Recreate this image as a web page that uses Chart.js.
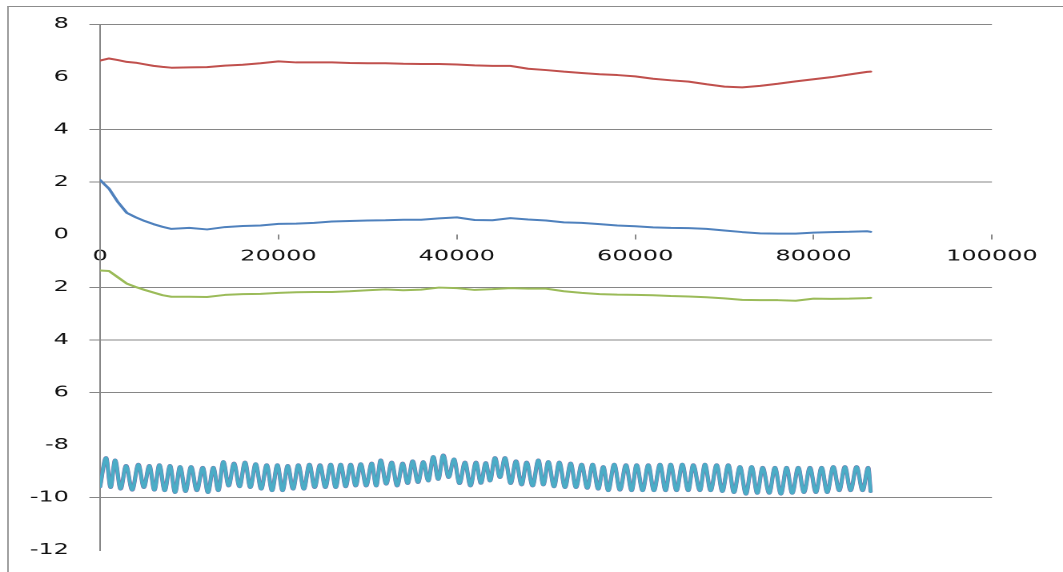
<!DOCTYPE html>
<html>
<head>
<meta charset="utf-8">
<script src="https://cdn.jsdelivr.net/npm/chart.js@4.4.1/dist/chart.umd.min.js"></script>
<style>
  html, body { margin: 0; padding: 0; background: #fff; overflow: hidden; }
  #frame { position: absolute; left: 7px; top: 6px; width: 1080px; height: 590px; border-left: 2px solid #a4a4a4; border-top: 1px solid #8c8c8c; }
  /* the reference is stretched sideways, so the canvas is drawn narrow and scaled up */
  #chart { position: absolute; left: 0; top: 0; transform-origin: 0 0; transform: scaleX(1.6009); }
</style>
</head>
<body>
<div id="frame"></div>
<canvas id="chart" width="664" height="572"></canvas>
<script>
// seconds over one day
const times = [0, 1000, 2000, 3000, 4000, 5000, 6000, 7000, 8000,
    10000, 12000, 14000, 16000, 18000, 20000, 22000, 24000, 26000, 28000,
    30000, 32000, 34000, 36000, 38000, 40000, 42000, 44000, 46000, 48000,
    50000, 52000, 54000, 56000, 58000, 60000, 62000, 64000, 66000, 68000,
    70000, 72000, 74000, 76000, 78000, 80000, 82000, 84000, 86000, 86400];

const redValues = [6.62, 6.70, 6.64, 6.57, 6.54, 6.48, 6.42, 6.38, 6.35,
    6.36, 6.37, 6.43, 6.46, 6.52, 6.59, 6.55, 6.55, 6.55, 6.53,
    6.52, 6.52, 6.50, 6.49, 6.49, 6.47, 6.44, 6.42, 6.42, 6.31,
    6.26, 6.20, 6.15, 6.10, 6.07, 6.02, 5.93, 5.87, 5.82, 5.72,
    5.63, 5.60, 5.66, 5.74, 5.83, 5.91, 5.99, 6.09, 6.19, 6.20];

const blueValues = [2.08, 1.75, 1.24, 0.83, 0.66, 0.52, 0.40, 0.30, 0.22,
    0.26, 0.20, 0.29, 0.33, 0.35, 0.41, 0.42, 0.45, 0.50, 0.52,
    0.54, 0.55, 0.57, 0.57, 0.62, 0.66, 0.56, 0.55, 0.63, 0.58,
    0.54, 0.47, 0.45, 0.40, 0.35, 0.32, 0.28, 0.26, 0.25, 0.22,
    0.16, 0.10, 0.05, 0.04, 0.04, 0.08, 0.10, 0.11, 0.13, 0.11];

const greenValues = [-1.36, -1.38, -1.62, -1.86, -1.99, -2.10, -2.20, -2.30, -2.36,
    -2.36, -2.37, -2.29, -2.26, -2.25, -2.21, -2.19, -2.18, -2.18, -2.15,
    -2.11, -2.08, -2.11, -2.09, -2.01, -2.03, -2.10, -2.07, -2.03, -2.05,
    -2.05, -2.15, -2.21, -2.26, -2.28, -2.29, -2.30, -2.33, -2.35, -2.38,
    -2.42, -2.48, -2.49, -2.49, -2.51, -2.43, -2.44, -2.43, -2.41, -2.40];

// aqua trace: start, then peak / trough pairs, then end
const aquaTimes = [0,
    673, 1180, 1682, 2300, 2915, 3600, 4295, 4910, 5530, 6090,
    6650, 7250, 7847, 8410, 8968, 9580, 10200, 10850, 11510, 12100,
    12700, 13260, 13820, 14420, 15020, 15640, 16255, 16850, 17450, 18070,
    18685, 19280, 19880, 20460, 21040, 21640, 22230, 22850, 23470, 24060,
    24660, 25260, 25860, 26420, 26980, 27540, 28100, 28660, 29225, 29840,
    30455, 30960, 31465, 32080, 32700, 33310, 33930, 34490, 35050, 35650,
    36245, 36800, 37365, 37920, 38485, 39080, 39680, 40300, 40915, 41530,
    42150, 42700, 43250, 43720, 44280, 44840, 45400, 46040, 46635, 47270,
    47830, 48500, 49140, 49700, 50260, 50900, 51490, 52130, 52765, 53360,
    53995, 54630, 55230, 55860, 56425, 56980, 57655, 58290, 58965, 59600,
    60160, 60830, 61470, 62100, 62780, 63410, 63975, 64640, 65280, 65950,
    66510, 67260, 67820, 68460, 69130, 69770, 70440, 71070, 71745, 72420,
    73055, 73690, 74290, 75030, 75670, 76340, 76980, 77610, 78285, 78920,
    79590, 80260, 80900, 81530, 82210, 82880, 83515, 84150, 84825, 85500,
    86130, 86400];

const aquaValues = [-9.59,
    -8.47, -9.62, -8.56, -9.68, -8.77, -9.72, -8.72, -9.62, -8.77, -9.72,
    -8.74, -9.74, -8.77, -9.81, -8.81, -9.77, -8.81, -9.74, -8.84, -9.81,
    -8.84, -9.74, -8.62, -9.56, -8.68, -9.59, -8.64, -9.62, -8.70, -9.68,
    -8.74, -9.74, -8.74, -9.74, -8.77, -9.68, -8.74, -9.68, -8.72, -9.62,
    -8.74, -9.62, -8.72, -9.62, -8.72, -9.59, -8.72, -9.56, -8.70, -9.56,
    -8.68, -9.56, -8.56, -9.49, -8.64, -9.56, -8.68, -9.47, -8.59, -9.43,
    -8.62, -9.37, -8.43, -9.31, -8.37, -9.24, -8.52, -9.47, -8.64, -9.56,
    -8.64, -9.46, -8.66, -9.37, -8.47, -9.24, -8.47, -9.47, -8.59, -9.52,
    -8.64, -9.56, -8.56, -9.52, -8.62, -9.59, -8.64, -9.62, -8.68, -9.62,
    -8.72, -9.65, -8.72, -9.68, -8.81, -9.74, -8.72, -9.72, -8.74, -9.74,
    -8.74, -9.74, -8.74, -9.74, -8.72, -9.74, -8.72, -9.74, -8.72, -9.74,
    -8.74, -9.74, -8.72, -9.74, -8.74, -9.77, -8.74, -9.81, -8.81, -9.87,
    -8.81, -9.84, -8.84, -9.84, -8.84, -9.87, -8.84, -9.84, -8.84, -9.81,
    -8.84, -9.81, -8.84, -9.81, -8.81, -9.74, -8.81, -9.74, -8.81, -9.74,
    -8.84, -9.77];

// the purple series lies right under the aqua one
const purpleValues = aquaValues;

// tick labels as they read in the picture, bottom to top
const yTickLabels = ['-12', '-10', '-8', '6', '4', '2', '0', '2', '4', '6', '8'];
const xTickLabels = ['0', '20000', '40000', '60000', '80000', '100000'];

// gridlines that do not show in the picture
const missingGridAt = [6, 0, -8, -12];

document.addEventListener('DOMContentLoaded', () => {
    const tickFont = { family: 'DejaVu Sans', size: 15 };

    function series(xs, ys, color, width, wavy) {
        return {
            data: xs.map((x, i) => ({ x: x, y: ys[i] })),
            showLine: true,
            borderColor: color,
            backgroundColor: color,
            borderWidth: width,
            borderJoinStyle: 'round',
            borderCapStyle: 'round',
            cubicInterpolationMode: wavy ? 'monotone' : 'default',
            pointRadius: 0,
            fill: false,
            tension: 0
        };
    }

    new Chart(document.getElementById('chart'), {
        type: 'scatter',
        data: {
            datasets: [
                series(aquaTimes, aquaValues, '#4BACC6', 2.2, true),
                series(aquaTimes, purpleValues, '#8064A2', 2.6, true),
                series(times, greenValues, '#9BBB59', 2, false),
                series(times, redValues, '#C0504D', 2, false),
                series(times, blueValues, '#4F81BD', 2, false)
            ]
        },
        options: {
            responsive: false,
            animation: false,
            devicePixelRatio: 2,
            layout: { padding: { left: 0, top: 24.3, right: 44.4, bottom: 16.1 } },
            plugins: {
                legend: { display: false },
                tooltip: { enabled: false }
            },
            scales: {
                x: {
                    type: 'linear',
                    min: 0,
                    max: 100000,
                    position: { y: 0 },
                    border: { display: false },
                    grid: { drawOnChartArea: false, drawTicks: true, tickLength: 5, color: '#888888' },
                    ticks: {
                        stepSize: 20000,
                        padding: 8,
                        color: '#111111',
                        font: tickFont,
                        maxRotation: 0,
                        autoSkip: false,
                        callback: (value, index) => xTickLabels[index]
                    }
                },
                y: {
                    type: 'linear',
                    min: -12,
                    max: 8,
                    border: { display: true, color: '#878787', width: 1 },
                    grid: {
                        color: ctx => (ctx.tick && missingGridAt.includes(ctx.tick.value)) ? 'rgba(0,0,0,0)' : '#868686',
                        tickLength: 6.7
                    },
                    ticks: {
                        stepSize: 2,
                        padding: 12.7,
                        color: '#111111',
                        font: tickFont,
                        callback: (value, index) => yTickLabels[index]
                    },
                    afterFit: scale => { scale.width = 62.5; }
                }
            }
        }
    });
});
</script>
</body>
</html>
